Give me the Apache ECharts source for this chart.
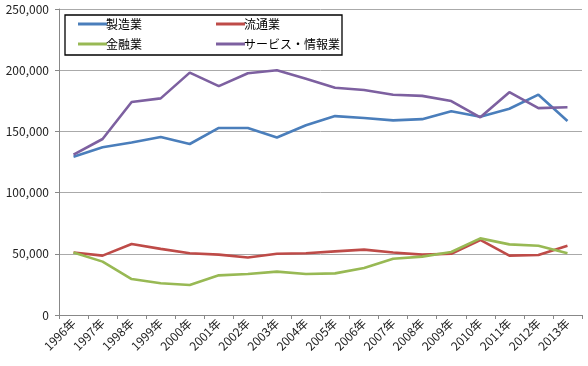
<!DOCTYPE html>
<html><head><meta charset="utf-8">
<script src="https://cdn.jsdelivr.net/npm/echarts@6/dist/echarts.min.js"></script>
<style>html,body{margin:0;padding:0;background:#fff}#c{width:588px;height:366px}</style>
</head><body><div id="c"></div>
<script>
const years = ['1996年','1997年','1998年','1999年','2000年','2001年','2002年','2003年','2004年','2005年','2006年','2007年','2008年','2009年','2010年','2011年','2012年','2013年'];
const manufacturing = [129300,137000,141000,145500,139700,152800,152800,145000,155000,162500,161000,159000,160000,166500,162000,168500,180000,158500];
const distribution = [51000,48500,58000,54000,50400,49300,47000,50000,50500,52000,53400,51000,49300,50000,61300,48500,49000,56600];
const finance = [51000,43600,29400,25900,24500,32400,33500,35400,33500,34000,38400,46000,47700,51500,62600,57700,56600,50400];
const service = [131000,143800,174000,177000,198000,187000,197500,200000,193000,185700,183800,180000,179000,174800,161500,182000,169000,169700];
const seriesNames = ['製造業','流通業','金融業','サービス・情報業'];
const colors = ['#4A7EBB','#BE4B48','#98B954','#7D60A0'];
const font = '"Noto Sans CJK JP", "DejaVu Sans", sans-serif';

const chart = echarts.init(document.getElementById('c'));
const mk = (name, data, color) => ({
  name, type: 'line', data, showSymbol: false, symbol: 'none',
  lineStyle: { color, width: 2.6 }, itemStyle: { color }, animation: false
});
const legendCommon = { orient: 'vertical', top: 13, itemGap: 8, icon: 'rect', itemWidth: 29, itemHeight: 3,
  textStyle: { fontSize: 12, color: '#000', fontFamily: font, padding: [0,0,0,-6] } };
chart.setOption({
  animation: false,
  textStyle: { fontFamily: font },
  grid: { left: 59, right: 6, top: 9, bottom: 51, containLabel: false },
  xAxis: {
    type: 'category', data: years, boundaryGap: true,
    axisLine: { lineStyle: { color: '#888', width: 1 } },
    axisTick: { show: true, length: 4, alignWithLabel: false, lineStyle: { color: '#888' } },
    axisLabel: { rotate: 45, fontSize: 12, color: '#222', margin: 6, interval: 0, fontFamily: font }
  },
  yAxis: {
    type: 'value', min: 0, max: 250000, interval: 50000,
    axisLine: { show: true, lineStyle: { color: '#888', width: 1 } },
    axisTick: { show: true, length: 4, lineStyle: { color: '#888' } },
    splitLine: { lineStyle: { color: '#aaa', width: 1 } },
    axisLabel: { fontSize: 12, color: '#222', margin: 10, fontFamily: font,
      formatter: v => v.toLocaleString('en-US') }
  },
  legend: [
    Object.assign({ data: [seriesNames[0], seriesNames[2]], left: 73 }, legendCommon),
    Object.assign({ data: [seriesNames[1], seriesNames[3]], left: 211 }, legendCommon)
  ],
  graphic: [{ type: 'rect', shape: { x: 65, y: 15, width: 277, height: 40 },
    style: { fill: '#fff', stroke: '#000', lineWidth: 1.3 }, z: 0 }],
  series: [
    mk(seriesNames[0], manufacturing, colors[0]),
    mk(seriesNames[1], distribution, colors[1]),
    mk(seriesNames[2], finance, colors[2]),
    mk(seriesNames[3], service, colors[3])
  ]
});
</script></body></html>
